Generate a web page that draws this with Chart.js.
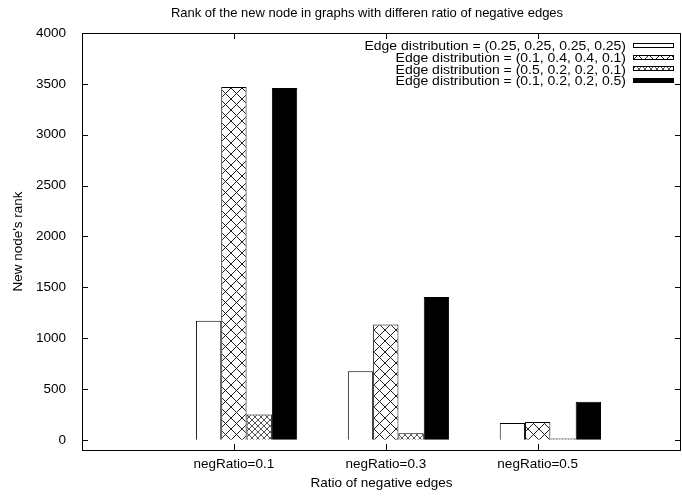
<!DOCTYPE html>
<html>
<head>
<meta charset="utf-8">
<script src="https://cdn.jsdelivr.net/npm/chart.js@4.4.0/dist/chart.umd.min.js"></script>
<style>
html, body { margin: 0; padding: 0; background: #fff; }
</style>
</head>
<body>
<canvas id="rankChart" width="682" height="496"></canvas>
<script>
const categories = ['negRatio=0.1', 'negRatio=0.3', 'negRatio=0.5'];
const seriesLabels = [
  'Edge distribution = (0.25, 0.25, 0.25, 0.25)',
  'Edge distribution = (0.1, 0.4, 0.4, 0.1)',
  'Edge distribution = (0.5, 0.2, 0.2, 0.1)',
  'Edge distribution = (0.1, 0.2, 0.2, 0.5)'
];
const evenVals = [1170, 675, 165];
const midVals = [3470, 1135, 175];
const headVals = [250, 65, 12];
const tailVals = [3460, 1405, 375];
const yTicks = [0, 500, 1000, 1500, 2000, 2500, 3000, 3500, 4000];

const FAMILY = '"Liberation Sans", Arial, sans-serif';
const BAR_SHIFT = 1 / 12;   // gnuplot puts the tic half a bar left of cluster centre

const canvas = document.getElementById('rankChart');
const ctx = canvas.getContext('2d');

function hatch(step, color) {
  const c = document.createElement('canvas');
  c.width = step; c.height = step;
  const g = c.getContext('2d');
  g.fillStyle = '#fff';
  g.fillRect(0, 0, step, step);
  g.strokeStyle = color;
  g.lineWidth = 1;
  g.beginPath();
  g.moveTo(0, 0); g.lineTo(step, step);
  g.moveTo(step, 0); g.lineTo(0, step);
  g.stroke();
  return ctx.createPattern(c, 'repeat');
}

const fills = ['#ffffff', hatch(11, '#222'), hatch(6, '#555'), '#000000'];
const valueSets = [evenVals, midVals, headVals, tailVals];

const datasets = valueSets.map((vals, k) => ({
  label: seriesLabels[k],
  data: vals.map((v, i) => ({ x: i, y: v })),
  backgroundColor: fills[k],
  borderColor: '#000',
  borderWidth: 1,
  barPercentage: 1,
  categoryPercentage: 4 / 6
}));

// frame, inward tics, title and key like the gnuplot original
const gnuplotLook = {
  id: 'gnuplotLook',
  afterDatasetsDraw(chart) {
    const { ctx, chartArea: a, scales: { x, y } } = chart;
    ctx.save();
    ctx.strokeStyle = '#000';
    ctx.lineWidth = 1;
    ctx.strokeRect(a.left + 0.5, a.top + 0.5, a.right - a.left - 1, a.bottom - a.top);
    ctx.beginPath();
    yTicks.forEach(v => {
      const py = Math.round(y.getPixelForValue(v)) + 0.5;
      ctx.moveTo(a.left, py); ctx.lineTo(a.left + 6, py);
      ctx.moveTo(a.right, py); ctx.lineTo(a.right - 6, py);
    });
    x.ticks.forEach(t => {
      const px = Math.round(x.getPixelForValue(t.value)) + 0.5;
      ctx.moveTo(px, a.bottom); ctx.lineTo(px, a.bottom - 6);
      ctx.moveTo(px, a.top); ctx.lineTo(px, a.top + 6);
    });
    ctx.stroke();

    ctx.fillStyle = '#000';
    ctx.font = '13px ' + FAMILY;
    ctx.textAlign = 'center';
    ctx.textBaseline = 'middle';
    ctx.fillText('Rank of the new node in graphs with differen ratio of negative edges', 367, 13);

    // key text is short but wide in the original, so stretch it sideways
    ctx.font = '12px ' + FAMILY;
    ctx.textAlign = 'right';
    chart.data.datasets.forEach((ds, k) => {
      const cy = 45.5 + k * 11.7;
      ctx.save();
      ctx.translate(626, cy + 1.5);
      ctx.scale(1.165, 1);
      ctx.fillStyle = '#000';
      ctx.fillText(ds.label, 0, 0);
      ctx.restore();
      ctx.fillStyle = ds.backgroundColor;
      ctx.fillRect(633, Math.round(cy - 2.5), 41, 5);
      ctx.strokeRect(633.5, Math.round(cy - 2.5) + 0.5, 40, 4);
    });
    ctx.restore();
  }
};

new Chart(ctx, {
  type: 'bar',
  data: { datasets: datasets },
  options: {
    responsive: false,
    animation: false,
    layout: { padding: { top: 33, right: 1, left: 0, bottom: 0 } },
    plugins: {
      legend: { display: false },
      title: { display: false },
      tooltip: { enabled: false }
    },
    scales: {
      x: {
        type: 'linear',
        offset: false,
        min: -1 - BAR_SHIFT,
        max: 2.86,
        grid: { display: false, offset: false },
        border: { display: false },
        afterBuildTicks: axis => {
          axis.ticks = categories.map((c, i) => ({ value: i - BAR_SHIFT }));
        },
        afterFit: axis => { axis.height = 46; },
        ticks: {
          color: '#000',
          font: { family: FAMILY, size: 13.5 },
          padding: -2,
          maxRotation: 0,
          autoSkip: false,
          callback: (val, idx) => categories[idx]
        },
        title: {
          display: true,
          text: 'Ratio of negative edges',
          color: '#000',
          font: { family: FAMILY, size: 13.5 },
          padding: { top: 0, bottom: 5 }
        }
      },
      y: {
        min: -100,
        max: 4000,
        grid: { display: false },
        border: { display: false },
        afterBuildTicks: axis => {
          axis.ticks = yTicks.map(v => ({ value: v }));
        },
        afterFit: axis => { axis.width = 82; },
        ticks: {
          color: '#000',
          font: { family: FAMILY, size: 13.5 },
          padding: 8,
          callback: v => String(v)
        },
        title: {
          display: true,
          text: "New node's rank",
          color: '#000',
          font: { family: FAMILY, size: 13.5 },
          padding: { top: 10, bottom: 0 }
        }
      }
    }
  },
  plugins: [gnuplotLook]
});
</script>
</body>
</html>
